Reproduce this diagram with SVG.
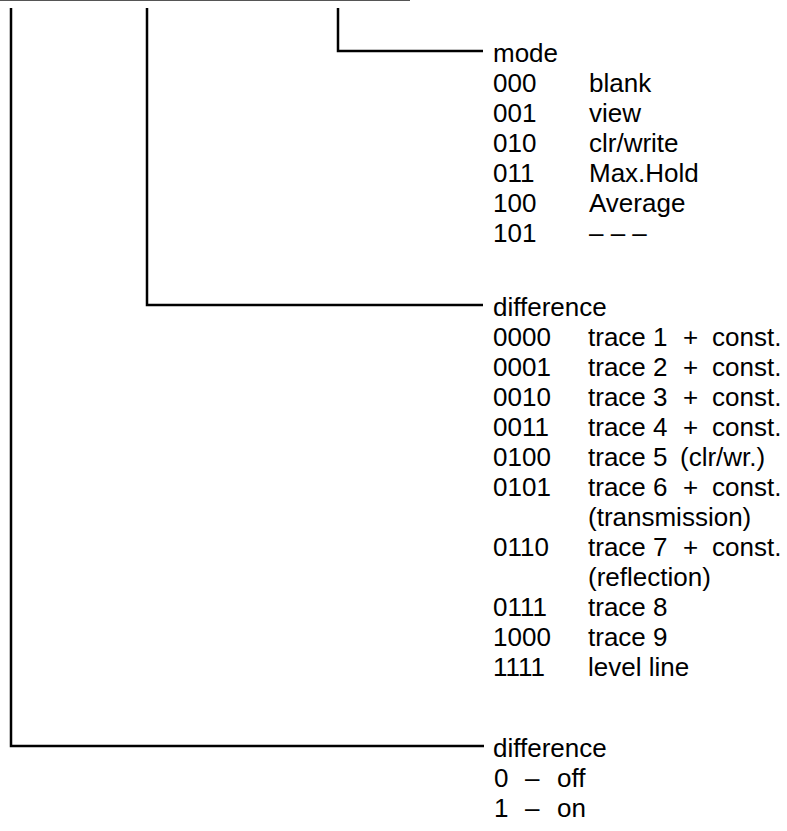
<svg xmlns="http://www.w3.org/2000/svg" width="787" height="831" viewBox="0 0 787 831">
<style>
text{font-family:"Liberation Sans",Arial,sans-serif;font-size:26px;fill:#000}
.c{stroke:#000;stroke-width:2.5;fill:none}
.top{stroke:#555;stroke-width:1.2;fill:none}
</style>
<rect width="787" height="831" fill="#fff"/>
<g id="connectors">
<line class="top" x1="0" y1="0.5" x2="410" y2="0.5"/>
<path class="c" d="M338 8 V51 H483"/>
<path class="c" d="M147 8 V305 H483"/>
<path class="c" d="M11 8 V746 H484"/>
</g>
<g id="mode">
<text x="493" y="62">mode</text>
<text x="493" y="92">000</text><text x="589" y="92">blank</text>
<text x="493" y="122">001</text><text x="589" y="122">view</text>
<text x="493" y="152">010</text><text x="589" y="152">clr/write</text>
<text x="493" y="182">011</text><text x="589" y="182">Max.Hold</text>
<text x="493" y="212">100</text><text x="589" y="212">Average</text>
<text x="493" y="242">101</text><text x="589" y="242">– – –</text>
</g>
<g id="difference">
<text x="493" y="316">difference</text>
<text x="493" y="346">0000</text><text y="346"><tspan x="588">trace 1</tspan><tspan x="683">+</tspan><tspan x="712">const.</tspan></text>
<text x="493" y="376">0001</text><text y="376"><tspan x="588">trace 2</tspan><tspan x="683">+</tspan><tspan x="712">const.</tspan></text>
<text x="493" y="406">0010</text><text y="406"><tspan x="588">trace 3</tspan><tspan x="683">+</tspan><tspan x="712">const.</tspan></text>
<text x="493" y="436">0011</text><text y="436"><tspan x="588">trace 4</tspan><tspan x="683">+</tspan><tspan x="712">const.</tspan></text>
<text x="493" y="466">0100</text><text y="466"><tspan x="588">trace 5</tspan><tspan x="680">(clr/wr.)</tspan></text>
<text x="493" y="496">0101</text><text y="496"><tspan x="588">trace 6</tspan><tspan x="683">+</tspan><tspan x="712">const.</tspan></text>
<text x="588" y="526">(transmission)</text>
<text x="493" y="556">0110</text><text y="556"><tspan x="588">trace 7</tspan><tspan x="683">+</tspan><tspan x="712">const.</tspan></text>
<text x="588" y="586">(reflection)</text>
<text x="493" y="616">0111</text><text x="588" y="616">trace 8</text>
<text x="493" y="646">1000</text><text x="588" y="646">trace 9</text>
<text x="493" y="676">1111</text><text x="588" y="676">level line</text>
</g>
<g id="onoff">
<text x="493" y="757">difference</text>
<text y="787"><tspan x="494">0</tspan><tspan x="525">–</tspan><tspan x="557">off</tspan></text>
<text y="817"><tspan x="494">1</tspan><tspan x="525">–</tspan><tspan x="557">on</tspan></text>
</g>
</svg>
